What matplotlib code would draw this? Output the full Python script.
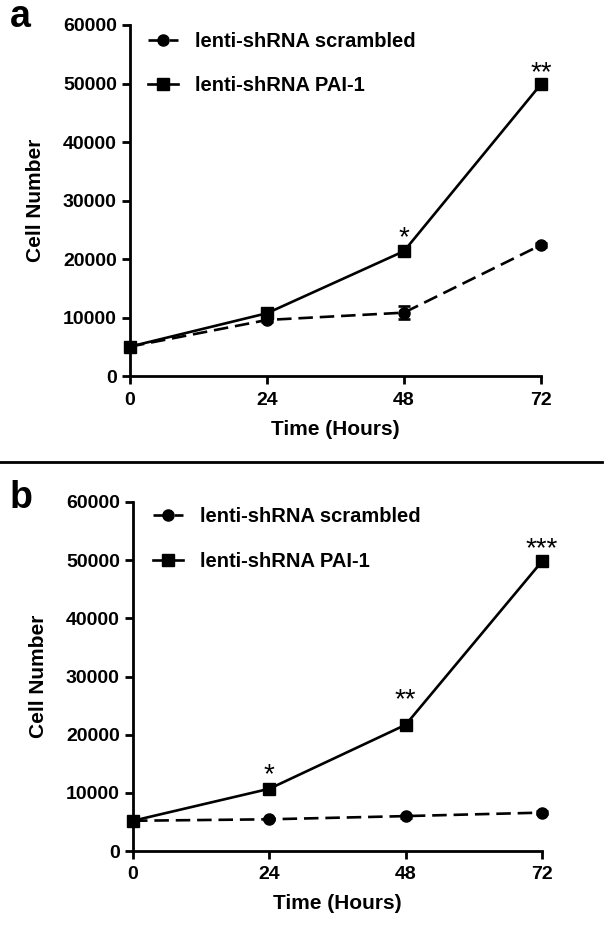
import numpy as np
import matplotlib
matplotlib.use("Agg")
import matplotlib.pyplot as plt
from matplotlib.lines import Line2D

plt.rcParams['font.family'] = ['Liberation Sans', 'DejaVu Sans']
plt.rcParams['font.weight'] = 'bold'

hours = [0, 24, 48, 72]
series_names = ['lenti-shRNA scrambled', 'lenti-shRNA PAI-1']

# panel a
a_scrambled = [5100, 9650, 10900, 22450]
a_scrambled_err = [200, 300, 1100, 400]
a_pai1 = [5100, 10800, 21400, 49900]
a_pai1_err = [200, 400, 500, 600]
a_stars = ['', '', '*', '**']

# panel b
b_scrambled = [5200, 5450, 6000, 6600]
b_scrambled_err = [150, 200, 250, 300]
b_pai1 = [5200, 10700, 21700, 49800]
b_pai1_err = [200, 400, 500, 600]
b_stars = ['', '*', '**', '***']

W, H = 608, 939
fig = plt.figure(figsize=(W / 100, H / 100), dpi=100)


def px_box(left, right, top, bottom):
    return [left / W, 1 - bottom / H, (right - left) / W, (bottom - top) / H]


def draw_panel(ax, scr, scr_err, pai, pai_err, stars, star_offsets, leg_xy):
    ax.errorbar(hours, scr, yerr=scr_err, fmt='none', ecolor='black',
                elinewidth=1.9, capsize=4, capthick=1.9, clip_on=False, zorder=3)
    ax.errorbar(hours, pai, yerr=pai_err, fmt='none', ecolor='black',
                elinewidth=1.9, capsize=4, capthick=1.9, clip_on=False, zorder=3)
    ax.plot(hours, scr, color='black', lw=1.9, ls=(0, (5.5, 2.6)), marker='o',
            ms=8, label=series_names[0], clip_on=False, zorder=4)
    ax.plot(hours, pai, color='black', lw=1.9, ls='-', marker='s',
            ms=8, label=series_names[1], clip_on=False, zorder=5)

    for x, y, s, off in zip(hours, pai, stars, star_offsets):
        if s:
            ax.annotate(s, (x, y), xytext=(0, off), textcoords='offset points',
                        ha='center', va='baseline', fontsize=20,
                        fontweight='normal')

    ax.set_xlim(0, 72)
    ax.set_ylim(0, 60000)
    ax.set_xticks(hours)
    ax.set_yticks(np.arange(0, 60001, 10000))
    for side in ['top', 'right']:
        ax.spines[side].set_visible(False)
    for side in ['left', 'bottom']:
        ax.spines[side].set_linewidth(2)
    ax.tick_params(direction='out', length=6, width=2, labelsize=14, pad=3.5)
    ax.tick_params(axis='x', pad=5)
    ax.set_xlabel('Time (Hours)', fontsize=15, fontweight='bold', labelpad=8)
    ax.set_ylabel('Cell Number', fontsize=15, fontweight='bold', labelpad=13)

    ax.legend(loc='center left', bbox_to_anchor=(leg_xy[0] / W, 1 - leg_xy[1] / H),
              bbox_transform=fig.transFigure, frameon=False, borderpad=0,
              borderaxespad=0, handlelength=1.5, handletextpad=0.85,
              labelspacing=1.25, prop={'size': 14.5, 'weight': 'bold'})


ax_a = fig.add_axes(px_box(130, 541, 25, 376.5))
draw_panel(ax_a, a_scrambled, a_scrambled_err, a_pai1, a_pai1_err, a_stars,
           [0, 0, 4.5, 3], (148, 63.5))

ax_b = fig.add_axes(px_box(133, 542, 502, 851))
draw_panel(ax_b, b_scrambled, b_scrambled_err, b_pai1, b_pai1_err, b_stars,
           [0, 4.5, 12.5, 3.5], (153, 539))

fig.text(10 / W, 1 - 27 / H, 'a', fontsize=27, fontweight='bold', va='baseline')
fig.text(10 / W, 1 - 508 / H, 'b', fontsize=27, fontweight='bold', va='baseline')

fig.add_artist(Line2D([0, 602 / W], [1 - 461.7 / H, 1 - 461.7 / H],
                      transform=fig.transFigure, color='black', lw=2))

fig.savefig('out.png', dpi=100)
